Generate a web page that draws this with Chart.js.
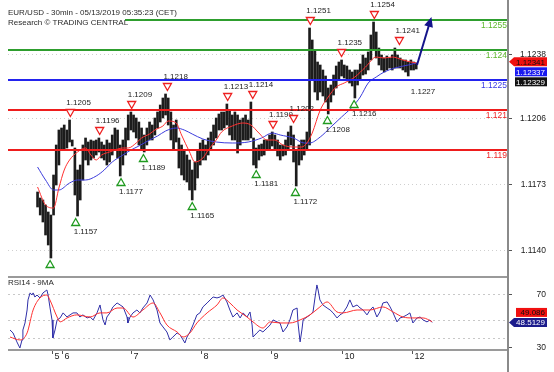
<!DOCTYPE html>
<html><head><meta charset="utf-8">
<script src="https://cdn.jsdelivr.net/npm/chart.js@4/dist/chart.umd.min.js"></script>
<style>
html,body{margin:0;padding:0;background:#fff;width:554px;height:372px;overflow:hidden;}
#main{position:absolute;left:0;top:0;}
#rsi{position:absolute;left:0;top:272px;}
</style></head><body>
<canvas id="main" width="554" height="272"></canvas>
<canvas id="rsi" width="554" height="100"></canvas>
<script>
// ---------- DATA ----------
const titleLine1 = "EUR/USD - 30min - 05/13/2019 05:35:23 (CET)";
const titleLine2 = "Research \u00A9 TRADING CENTRAL";
const rsiTitle = "RSI14 - 9MA";

// candles (one slot per ~hour), index 0..142
const candleHigh = [1.11690,1.11660,1.11650,1.11625,1.11590,1.11575,1.11775,1.11925,1.12000,1.12010,
1.12025,1.12000,1.12050,1.11950,1.11910,1.11800,1.11825,1.11925,1.11960,1.11940,
1.11950,1.11945,1.11950,1.11960,1.11940,1.11925,1.11950,1.11935,1.11975,1.12010,
1.12000,1.11925,1.11950,1.12010,1.12075,1.12090,1.12075,1.12060,1.12040,1.12010,
1.11975,1.12010,1.12040,1.12025,1.12060,1.12090,1.12125,1.12160,1.12180,1.12160,
1.12090,1.12025,1.12050,1.11960,1.11925,1.11900,1.11875,1.11850,1.11800,1.11840,
1.11900,1.11935,1.11950,1.11925,1.11960,1.11990,1.12025,1.12060,1.12080,1.12090,
1.12090,1.12130,1.12100,1.12075,1.12090,1.12075,1.12050,1.12060,1.12075,1.12050,
1.12140,1.11960,1.11910,1.11925,1.11930,1.11950,1.11950,1.11975,1.11990,1.11975,
1.11950,1.11925,1.11925,1.11950,1.11990,1.12020,1.11975,1.11900,1.11925,1.11950,
1.11950,1.11990,1.12510,1.12450,1.12400,1.12340,1.12325,1.12300,1.12270,1.12210,
1.12225,1.12275,1.12320,1.12340,1.12350,1.12325,1.12320,1.12300,1.12290,1.12300,
1.12300,1.12330,1.12375,1.12360,1.12390,1.12475,1.12540,1.12490,1.12410,1.12375,
1.12360,1.12370,1.12360,1.12375,1.12410,1.12375,1.12360,1.12350,1.12350,1.12340,
1.12350,1.12340,1.12335];
const candleLow = [1.11615,1.11575,1.11540,1.11475,1.11425,1.11360,1.11575,1.11725,1.11825,1.11900,
1.11900,1.11910,1.11940,1.11920,1.11675,1.11570,1.11650,1.11750,1.11850,1.11825,
1.11850,1.11860,1.11875,1.11890,1.11860,1.11850,1.11825,1.11840,1.11875,1.11900,
1.11860,1.11770,1.11825,1.11875,1.11950,1.12000,1.11990,1.11960,1.11925,1.11900,
1.11890,1.11925,1.11950,1.11950,1.11975,1.12010,1.12040,1.12060,1.12075,1.12025,
1.11950,1.11900,1.11940,1.11810,1.11775,1.11750,1.11740,1.11700,1.11650,1.11700,
1.11760,1.11825,1.11850,1.11850,1.11875,1.11900,1.11925,1.11960,1.12000,1.12000,
1.12010,1.12025,1.11975,1.11950,1.11950,1.11885,1.11925,1.11950,1.11950,1.11950,
1.11960,1.11825,1.11810,1.11850,1.11870,1.11875,1.11900,1.11900,1.11920,1.11900,
1.11870,1.11850,1.11870,1.11875,1.11900,1.11925,1.11840,1.11720,1.11825,1.11850,
1.11875,1.11900,1.11925,1.12250,1.12190,1.12150,1.12190,1.12170,1.12140,1.12080,
1.12140,1.12175,1.12210,1.12250,1.12270,1.12260,1.12250,1.12235,1.12220,1.12160,
1.12225,1.12250,1.12275,1.12280,1.12300,1.12350,1.12400,1.12360,1.12325,1.12300,
1.12290,1.12300,1.12310,1.12300,1.12310,1.12310,1.12310,1.12300,1.12290,1.12270,
1.12300,1.12300,1.12305];

const maRedX = [0,3,6,8,10,12,15,18,20,22,24,27,29,32,34,37,39,42,44,47,49,52,54,57,59,62,64,67,69,73,77,80,83,86,89,92,96,99,101,103,106,109,112,115,119,123,127,130,133,137,140,142];
const maRed = [1.11715,1.11625,1.11610,1.11710,1.11800,1.11850,1.11890,1.11910,1.11875,1.11850,1.11875,1.11890,1.11900,1.11910,1.11910,1.11935,1.11960,1.11980,1.12000,1.12020,1.12045,1.12035,1.11975,1.11890,1.11840,1.11860,1.11900,1.11950,1.11990,1.12020,1.12035,1.12025,1.11985,1.11950,1.11950,1.11925,1.11915,1.11915,1.11935,1.11985,1.12100,1.12165,1.12215,1.12235,1.12265,1.12315,1.12365,1.12360,1.12365,1.12350,1.12340,1.12335];
const maBlueX = [0,3,6,8,12,15,18,22,25,28,32,35,38,42,45,48,52,55,58,62,67,73,79,84,88,91,96,100,102,106,110,114,118,121,124,127,130,134,139,142];
const maBlue = [1.11815,1.11750,1.11700,1.11700,1.11735,1.11750,1.11750,1.11770,1.11800,1.11840,1.11875,1.11900,1.11920,1.11950,1.11970,1.11995,1.12010,1.12000,1.11980,1.11955,1.11940,1.11935,1.11940,1.11960,1.11985,1.11975,1.11960,1.11935,1.11935,1.11965,1.12015,1.12065,1.12115,1.12165,1.12235,1.12265,1.12290,1.12310,1.12325,1.12335];

const levels = [1.1255, 1.124, 1.1225, 1.121, 1.119];
const levelLabels = ["1.1255", "1.124", "1.1225", "1.121", "1.119"];
const priceTicks = [1.1238, 1.1206, 1.1173, 1.1140];
const priceTickLabels = ["1.1238", "1.1206", "1.1173", "1.1140"];
const lastValues = [1.12341, 1.12337, 1.12329];
const lastLabels = ["1.12341", "1.12337", "1.12329"];

const hiMarkX = [12.3,23.3,35.3,48.7,71.3,80.7,88.3,96,102.3,114,126.3,135.7];
const hiMarkV = [1.1205,1.1196,1.1209,1.1218,1.1213,1.1214,1.1199,1.1202,1.1251,1.1235,1.1254,1.1241];
const loMarkX = [4.7,14.3,31.3,39.7,58,82,96.7,108.7,118.7,140.7];
const loMarkV = [1.1136,1.1157,1.1177,1.1189,1.1165,1.1181,1.1172,1.1208,1.1216,1.1227];
const loMarkTri = [true,true,true,true,true,true,true,true,true,false];
const loMarkText = [false,true,true,true,true,true,true,true,true,true];

const arrowX = [142.3, 147.7];
const arrowY = [1.12325, 1.12565];

const rsiX = [0,1,2.3,3.3,4,4.3,5,5.7,6,6.7,7.3,7.7,8.3,9,10,11,12.3,12.7,13.3,14,14.3,15,15.7,16.7,17.7,19,20,21,22.3,23.3,24.3,25.7,26.7,27.7,29,30,31,31.7,32.3,33.3,34.3,35.7,36.7,37.7,39,39.3,40,41,42.3,43.3,44.3,45.7,46.7,47.3,47.7,49,50,51,52.3,53.3,54.3,55.7,56.7,57.7,58.3,59,60,61,62.3,63.3,64.3,65.7,66.7,67.7,69,70,71,72.3,73.3,74.3,75.7,76.7,77.7,79,80,80.7,81,82.3,83.3,84.3,85.7,86.7,87.7,89,90,91,92.3,93.3,94.3,95.7,96,96.7,97.3,97.7,99,100,101,101.7,102.3,102.7,103.3,104.3,105.7,106.7,107.7,109,110,111,112.3,113.3,114.3,115.7,116.7,117.7,119,120,121,122.3,123.3,124.3,125.7,126.7,127.7,129,130,131,132.3,133.3,134.3,135.7,136.7,137.7,139,140,140.7];
const rsiV = [42.8,40.6,33.8,29.2,35.3,42.8,48.1,57.9,65.5,70.8,69.2,70.8,67.7,69.2,67.0,70.8,73.0,69.2,60.2,50.4,36.8,42.8,50.4,51.9,55.7,52.6,54.2,55.7,55.7,52.6,54.2,51.9,52.6,50.4,55.7,61.7,50.4,46.6,52.6,55.7,60.2,63.2,61.7,60.2,52.6,48.1,52.6,55.7,57.9,55.7,59.4,63.2,69.2,67.0,65.5,57.9,48.1,45.1,41.3,35.3,37.5,40.6,39.1,35.3,33.0,37.5,41.3,46.6,54.2,55.7,60.2,63.2,65.5,67.7,67.0,67.7,69.2,64.0,57.9,52.6,55.7,51.9,55.7,52.6,56.4,46.6,37.5,40.6,42.8,41.3,44.3,46.6,50.4,48.9,48.1,41.3,45.1,50.4,57.9,59.4,48.1,33.8,42.8,50.4,52.6,54.2,56.4,67.7,76.8,73.0,65.5,61.7,59.4,57.9,55.7,51.9,54.2,55.7,60.2,65.5,60.2,61.7,59.4,57.9,54.2,57.9,60.2,52.6,56.4,63.2,64.0,60.2,55.7,48.9,51.9,52.6,54.2,55.7,48.1,51.9,52.6,50.4,48.9,50.4,48.5];
const rsiMaX = [0,3.3,5.7,7.7,10,12.3,13.3,15.7,16.7,19,22.3,26.7,30,32.3,35.7,37.7,41,44.3,47.7,50,52.3,55.7,57.7,60,62.3,65.7,69,71,73.3,75.7,79,81,84.3,86.7,90,93.3,96.7,100,103.3,105.7,109,111,115.7,120,124.3,127.7,131,134.3,137.7,140.7];
const rsiMa = [37.5,35.3,40.6,57.9,67.0,69.2,65.5,52.6,48.9,51.9,54.2,52.6,55.7,55.7,59.4,59.4,52.6,57.9,63.2,55.7,46.6,41.3,37.5,40.6,48.1,55.7,61.7,67.0,63.2,57.9,52.6,48.9,44.3,48.9,48.1,48.1,50.4,54.2,60.2,64.0,56.4,55.7,57.9,57.9,60.2,56.4,52.6,51.9,51.9,49.1];
const rsiTicks = [70, 30];
const rsiGrid = [70, 50, 37];
const rsiLastValues = [48.5129, 49.086];
const rsiLastLabels = ["48.5129", "49.086"];
const dayTicks = [14, 17.3, 40.3, 63.7, 87, 110.7, 134];
const dayLabels = ["5", "6", "7", "8", "9", "10", "12"];

// ---------- STYLE ----------
const FONT = '"Liberation Sans", Arial, sans-serif';
const X_MIN = -0.667, X_MAX = 166;
const levelColors = ['#2e9e2e','#2e9e2e','#2323ee','#ee1d1d','#ee1d1d'];
const levelTextColors = ['#5cb82c','#5cb82c','#3a3ae6','#ee2222','#ee2222'];
const AXIS_X = 508;

function tri(ctx, x, y, down, color){
  ctx.beginPath();
  if(down){ctx.moveTo(x-4,y-3.5);ctx.lineTo(x+4,y-3.5);ctx.lineTo(x,y+3.5);}
  else {ctx.moveTo(x-4,y+3.5);ctx.lineTo(x+4,y+3.5);ctx.lineTo(x,y-3.5);}
  ctx.closePath(); ctx.fillStyle='#fff'; ctx.fill();
  ctx.lineWidth=1.3; ctx.strokeStyle=color; ctx.stroke();
}
function box(ctx, xL, yc, text, bg, fg, pointer){
  const h=9, xR=547;
  ctx.beginPath();
  if(pointer){ctx.moveTo(xL-5,yc);ctx.lineTo(xL,yc-h/2);} else ctx.moveTo(xL,yc-h/2);
  ctx.lineTo(xR,yc-h/2);ctx.lineTo(xR,yc+h/2);ctx.lineTo(xL,yc+h/2);ctx.closePath();
  ctx.fillStyle=bg; ctx.fill();
  ctx.fillStyle=fg; ctx.font='8px '+FONT; ctx.textAlign='right'; ctx.textBaseline='middle';
  ctx.fillText(text, xR-2, yc+0.5);
}

const mainDecor = {
  id:'mainDecor',
  beforeDatasetsDraw(chart){
    const {ctx, chartArea:a, scales:{y}} = chart;
    ctx.save(); ctx.strokeStyle='#cfcfcf'; ctx.setLineDash([1,3]); ctx.lineWidth=1;
    priceTicks.forEach(v=>{const py=Math.round(y.getPixelForValue(v))+0.5;
      ctx.beginPath(); ctx.moveTo(a.left,py); ctx.lineTo(a.right,py); ctx.stroke();});
    ctx.restore();
  },
  afterDatasetsDraw(chart){
    const {ctx, chartArea:a, scales:{x,y}} = chart;
    ctx.save();
    ctx.beginPath(); ctx.rect(a.left, a.top, a.right-a.left, a.bottom-a.top); ctx.clip();
    levels.forEach((v,i)=>{
      const py=y.getPixelForValue(v);
      ctx.strokeStyle=levelColors[i]; ctx.lineWidth=2;
      ctx.beginPath(); ctx.moveTo(a.left,py); ctx.lineTo(a.right,py); ctx.stroke();
      ctx.fillStyle=levelTextColors[i]; ctx.font='8.5px '+FONT; ctx.textAlign='right'; ctx.textBaseline='middle';
      ctx.fillText(levelLabels[i], a.right-1, py+5.5);
    });
    ctx.font='8px '+FONT; ctx.textBaseline='middle'; ctx.textAlign='left';
    hiMarkX.forEach((mx,i)=>{
      const px=x.getPixelForValue(mx), py=y.getPixelForValue(hiMarkV[i]);
      tri(ctx, px, py-7, true, '#ee2020');
      ctx.fillStyle='#222'; ctx.fillText(hiMarkV[i].toFixed(4), px-4, py-17);
    });
    loMarkX.forEach((mx,i)=>{
      const px=x.getPixelForValue(mx), py=y.getPixelForValue(loMarkV[i]);
      if(loMarkTri[i]) tri(ctx, px, py+6, false, '#1f9a1f');
      if(loMarkText[i]){ ctx.fillStyle='#222'; ctx.fillText(loMarkV[i].toFixed(4), px-2, py+16); }
    });
    const x0=x.getPixelForValue(arrowX[0]), y0=y.getPixelForValue(arrowY[0]);
    const x1=x.getPixelForValue(arrowX[1]), y1=y.getPixelForValue(arrowY[1]);
    const ang=Math.atan2(y1-y0,x1-x0);
    ctx.strokeStyle='#14148a'; ctx.lineWidth=2;
    ctx.beginPath(); ctx.moveTo(x0,y0); ctx.lineTo(x1-6*Math.cos(ang), y1-6*Math.sin(ang)); ctx.stroke();
    ctx.fillStyle='#14148a'; ctx.beginPath();
    ctx.moveTo(x1,y1);
    ctx.lineTo(x1-10*Math.cos(ang)+4.5*Math.sin(ang), y1-10*Math.sin(ang)-4.5*Math.cos(ang));
    ctx.lineTo(x1-10*Math.cos(ang)-4.5*Math.sin(ang), y1-10*Math.sin(ang)+4.5*Math.cos(ang));
    ctx.closePath(); ctx.fill();
    ctx.restore();
  },
  afterDraw(chart){
    const {ctx, scales:{y}} = chart;
    ctx.save();
    ctx.fillStyle='#fff'; ctx.fillRect(0,6,125,21);
    ctx.fillStyle='#2a2a2a'; ctx.font='8px '+FONT; ctx.textAlign='left'; ctx.textBaseline='middle';
    ctx.fillText(titleLine1, 8, 13);
    ctx.fillText(titleLine2, 8, 23);
    ctx.strokeStyle='#8a8a8a'; ctx.lineWidth=2;
    ctx.beginPath(); ctx.moveTo(AXIS_X,0); ctx.lineTo(AXIS_X,chart.height); ctx.stroke();
    ctx.lineWidth=1; ctx.strokeStyle='#555';
    ctx.font='8.5px '+FONT; ctx.textAlign='right'; ctx.fillStyle='#222';
    priceTicks.forEach((v,i)=>{
      const py=Math.round(y.getPixelForValue(v))+0.5;
      ctx.beginPath(); ctx.moveTo(AXIS_X+1,py); ctx.lineTo(AXIS_X+4,py); ctx.stroke();
      ctx.fillText(priceTickLabels[i], 546, py);
    });
    const yc0=y.getPixelForValue(lastValues[0]);
    box(ctx, 514, yc0, lastLabels[0], '#f01010', '#111', true);
    box(ctx, 515, yc0+10, lastLabels[1], '#1a1af0', '#fff', false);
    box(ctx, 515, yc0+20, lastLabels[2], '#111', '#fff', false);
    ctx.restore();
  }
};

new Chart(document.getElementById('main'), {
  type:'bar',
  data:{datasets:[
    {type:'line', data: maRedX.map((v,i)=>({x:v, y:maRed[i]})), borderColor:'#ff3030', borderWidth:1, pointRadius:0, cubicInterpolationMode:'monotone', order:1},
    {type:'line', data: maBlueX.map((v,i)=>({x:v, y:maBlue[i]})), borderColor:'#3c3cdc', borderWidth:1, pointRadius:0, cubicInterpolationMode:'monotone', order:2},
    {type:'bar', data: candleHigh.map((h,i)=>({x:i, y:[candleLow[i], h]})), backgroundColor:'#1c1c1c', barThickness:2, grouped:false, order:3}
  ]},
  options:{
    responsive:false, animation:false, events:[],
    plugins:{legend:{display:false}, tooltip:{enabled:false}},
    layout:{padding:{left:8, right:46, top:0, bottom:0}},
    scales:{
      x:{type:'linear', min:X_MIN, max:X_MAX, display:false},
      y:{min:1.1129, max:1.1265, display:false}
    }
  },
  plugins:[mainDecor]
});

const rsiDecor = {
  id:'rsiDecor',
  beforeDatasetsDraw(chart){
    const {ctx, chartArea:a, scales:{y}} = chart;
    ctx.save(); ctx.strokeStyle='#c8c8c8'; ctx.setLineDash([2,3]); ctx.lineWidth=1;
    rsiGrid.forEach(v=>{const py=Math.round(y.getPixelForValue(v))+0.5;
      ctx.beginPath(); ctx.moveTo(a.left,py); ctx.lineTo(a.right,py); ctx.stroke();});
    ctx.restore();
  },
  afterDraw(chart){
    const {ctx, chartArea:a, scales:{x,y}} = chart;
    ctx.save();
    ctx.strokeStyle='#9a9a9a'; ctx.lineWidth=2;
    ctx.beginPath(); ctx.moveTo(a.left,a.top); ctx.lineTo(a.right,a.top);
    ctx.moveTo(a.left,a.bottom); ctx.lineTo(a.right,a.bottom); ctx.stroke();
    ctx.strokeStyle='#8a8a8a';
    ctx.beginPath(); ctx.moveTo(AXIS_X,0); ctx.lineTo(AXIS_X,chart.height); ctx.stroke();
    ctx.fillStyle='#2a2a2a'; ctx.font='8px '+FONT; ctx.textAlign='left'; ctx.textBaseline='middle';
    ctx.fillText(rsiTitle, 8, 11);
    ctx.lineWidth=1; ctx.strokeStyle='#555'; ctx.font='8.5px '+FONT; ctx.textAlign='right'; ctx.fillStyle='#222';
    rsiTicks.forEach(v=>{
      const py=Math.round(y.getPixelForValue(v))+0.5;
      ctx.beginPath(); ctx.moveTo(AXIS_X+1,py); ctx.lineTo(AXIS_X+4,py); ctx.stroke();
      ctx.fillText(String(v), 546, py);
    });
    ctx.textAlign='left'; ctx.font='9px '+FONT; ctx.fillStyle='#222';
    dayTicks.forEach((d,i)=>{
      const px=Math.round(x.getPixelForValue(d))+0.5;
      ctx.beginPath(); ctx.moveTo(px,a.bottom+1); ctx.lineTo(px,a.bottom+4); ctx.stroke();
      ctx.fillText(dayLabels[i], px+2, a.bottom+7);
    });
    const yc=y.getPixelForValue(rsiLastValues[0]);
    box(ctx, 516, yc-10, rsiLastLabels[1], '#f01010', '#111', false);
    box(ctx, 514, yc, rsiLastLabels[0], '#1c1c8c', '#fff', true);
    ctx.restore();
  }
};

new Chart(document.getElementById('rsi'), {
  type:'line',
  data:{datasets:[
    {data: rsiMaX.map((v,i)=>({x:v, y:rsiMa[i]})), borderColor:'#ff3030', borderWidth:1, pointRadius:0, cubicInterpolationMode:'monotone', order:1},
    {data: rsiX.map((v,i)=>({x:v, y:rsiV[i]})), borderColor:'#2f2fa8', borderWidth:1, pointRadius:0, order:2}
  ]},
  options:{
    responsive:false, animation:false, events:[],
    plugins:{legend:{display:false}, tooltip:{enabled:false}},
    layout:{padding:{left:8, right:46, top:5, bottom:22}},
    scales:{
      x:{type:'linear', min:X_MIN, max:X_MAX, display:false},
      y:{min:27.7, max:82.8, display:false}
    }
  },
  plugins:[rsiDecor]
});
</script>
</body></html>
